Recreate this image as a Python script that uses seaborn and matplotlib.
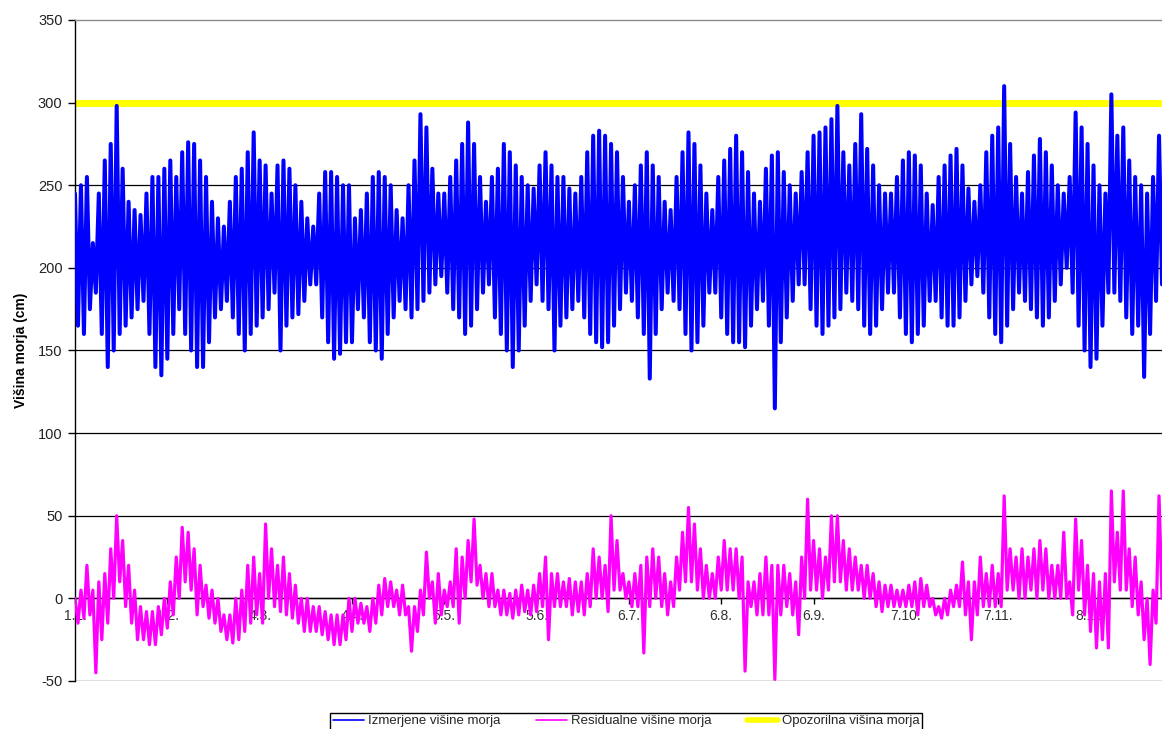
import matplotlib
matplotlib.use("Agg")
import matplotlib.pyplot as plt
import seaborn as sns
import pandas as pd
from matplotlib.lines import Line2D

# ---- data (one sample every 2 days) ----
days = list(range(0, 365, 2))

blue_high = [245, 250, 255, 215, 245, 265, 275, 298, 260, 240,
             235, 232, 245, 255, 255, 260, 265, 255, 270, 276,
             275, 265, 255, 240, 230, 225, 240, 255, 260, 270,
             282, 265, 262, 245, 262, 265, 260, 250, 240, 230,
             225, 245, 258, 258, 255, 250, 250, 230, 235, 245,
             255, 258, 255, 250, 235, 230, 250, 265, 293, 285,
             260, 245, 245, 255, 265, 275, 288, 275, 255, 240,
             255, 260, 275, 270, 262, 255, 250, 248, 262, 270,
             262, 255, 255, 248, 245, 255, 270, 280, 283, 280,
             275, 270, 255, 240, 250, 262, 270, 262, 255, 240,
             235, 255, 270, 282, 275, 262, 245, 235, 255, 265,
             272, 280, 270, 258, 245, 240, 260, 268, 270, 258,
             250, 245, 258, 270, 280, 282, 285, 290, 298, 270,
             262, 275, 293, 272, 262, 250, 245, 245, 255, 265,
             270, 268, 262, 245, 238, 255, 262, 268, 272, 262,
             248, 240, 250, 270, 280, 285, 310, 275, 255, 245,
             258, 268, 278, 270, 262, 250, 245, 255, 294, 285,
             275, 262, 250, 245, 305, 280, 285, 265, 255, 250,
             245, 255, 280]

blue_low = [165, 160, 175, 185, 160, 140, 150, 160, 165, 170,
            175, 180, 160, 140, 135, 145, 160, 175, 160, 150,
            140, 140, 155, 170, 175, 180, 170, 160, 150, 160,
            165, 170, 175, 185, 150, 165, 170, 172, 180, 190,
            190, 170, 155, 145, 148, 155, 155, 175, 170, 155,
            150, 145, 160, 170, 180, 175, 170, 175, 180, 185,
            190, 195, 185, 175, 170, 160, 165, 175, 185, 190,
            170, 160, 150, 140, 150, 165, 180, 190, 180, 175,
            150, 165, 170, 175, 180, 170, 160, 155, 152, 155,
            165, 175, 185, 180, 170, 160, 133, 160, 175, 185,
            180, 175, 160, 150, 155, 165, 185, 185, 170, 160,
            155, 155, 152, 165, 175, 180, 165, 115, 155, 170,
            180, 190, 190, 175, 165, 160, 165, 170, 175, 185,
            180, 175, 165, 160, 165, 175, 185, 185, 170, 160,
            155, 160, 165, 180, 180, 170, 165, 165, 170, 180,
            190, 195, 185, 170, 160, 155, 165, 175, 185, 180,
            175, 170, 165, 170, 180, 190, 200, 185, 165, 150,
            140, 145, 165, 185, 185, 180, 170, 160, 165, 134,
            160, 180, 190]

res_high = [0, 5, 20, 5, 10, 15, 30, 50, 35, 20,
            5, -5, -8, -8, -5, 0, 10, 25, 43, 40,
            30, 20, 8, 5, 0, -10, -10, 0, 5, 20,
            25, 15, 45, 30, 20, 25, 15, 8, 0, 0,
            -5, -5, -8, -10, -10, -10, 0, 0, -3, -5,
            0, 8, 12, 10, 5, 8, -5, -5, 5, 28,
            10, 15, 5, 10, 30, 25, 35, 48, 20, 15,
            15, 5, 5, 3, 5, 8, 5, 8, 15, 25,
            15, 15, 10, 12, 10, 10, 15, 30, 25, 20,
            50, 35, 15, 10, 15, 20, 25, 30, 25, 15,
            10, 25, 40, 55, 45, 30, 20, 15, 25, 35,
            30, 30, 25, 10, 10, 15, 25, 20, 20, 20,
            15, 10, 25, 60, 35, 30, 25, 50, 50, 35,
            30, 25, 20, 20, 15, 10, 8, 8, 5, 5,
            8, 10, 12, 8, 0, -5, 0, 5, 8, 22,
            10, 10, 25, 15, 20, 15, 62, 30, 25, 30,
            25, 30, 35, 30, 20, 20, 40, 10, 48, 35,
            20, 15, 10, 15, 65, 40, 65, 30, 25, 10,
            0, 5, 62]

res_low = [-15, -12, -10, -45, -25, -15, 0, 10, -5, -15,
           -25, -25, -28, -28, -22, -18, -10, 0, 10, 5,
           -10, -5, -12, -15, -20, -25, -27, -25, -20, -15,
           -10, -15, 0, -5, -8, -10, -12, -15, -20, -20,
           -20, -22, -25, -28, -28, -25, -20, -15, -15, -20,
           -15, -10, -5, -5, -10, -10, -32, -20, -10, 0,
           -15, -10, -5, -5, -15, 0, 10, 8, 0, -5,
           -5, -10, -10, -12, -10, -8, -10, -8, -5, -25,
           -5, -5, -5, -10, -8, -10, -5, 0, 0, -8,
           5, 5, 0, -5, -5, -33, -5, 0, -5, -10,
           -5, 5, 10, 10, 5, 0, 0, 0, 5, 5,
           5, 0, -44, -5, -10, -10, -10, -49, -10, -5,
           -10, -22, 0, 5, 5, 0, 5, 10, 10, 5,
           5, 5, 0, 0, -5, -8, -5, -5, -5, -5,
           -5, -10, -5, -5, -10, -12, -10, -5, -5, -10,
           -25, -10, -5, -5, -5, -5, 5, 5, 0, 0,
           5, 0, 5, 0, 0, 0, 0, -10, 5, -10,
           -20, -30, -25, -30, 10, 5, 5, -5, -10, -25,
           -40, -15, 0]

warning_level = [300, 300]
warning_days = [0, 365]

tick_days = [0, 31, 62, 93, 124, 155, 186, 217, 248, 279, 310, 341]
tick_labels = ["1.1.", "1.2.", "4.3.", "4.4.", "5.5.", "5.6.", "6.7.",
               "6.8.", "6.9.", "7.10.", "7.11.", "8.12."]

series_names = ["Izmerjene višine morja", "Residualne višine morja",
                "Opozorilna višina morja"]


def zigzag(high, low):
    xs, ys = [], []
    for d, h, l in zip(days, high, low):
        xs += [d, d + 1]
        ys += [h, l]
    return pd.DataFrame({"day": xs, "value": ys})


blue_df = zigzag(blue_high, blue_low)
res_df = zigzag(res_high, res_low)
warn_df = pd.DataFrame({"day": warning_days, "value": warning_level})

sns.set_theme(style="white")
plt.rcParams["font.family"] = ["Liberation Sans", "DejaVu Sans"]
plt.rcParams["axes.unicode_minus"] = False

W, H = 1162, 729
fig = plt.figure(figsize=(W / 100, H / 100), dpi=100)
ax = fig.add_axes([75 / W, 1 - 681 / H, (1162 - 75) / W, (681 - 20) / H])

BLUE = "#0000ff"
MAG = "#ff00ff"
YEL = "#ffff00"

sns.lineplot(data=warn_df, x="day", y="value", color=YEL, lw=5,
             ax=ax, estimator=None, sort=False, zorder=2)
sns.lineplot(data=blue_df, x="day", y="value", color=BLUE, lw=2.9,
             ax=ax, estimator=None, sort=False, zorder=3)
sns.lineplot(data=res_df, x="day", y="value", color=MAG, lw=2.3,
             ax=ax, estimator=None, sort=False, zorder=3)

ax.set_xlim(0, 365)
ax.set_ylim(-50, 350)
ax.set_yticks(range(-50, 351, 50))
ax.set_xticks(tick_days)
ax.set_xticklabels(tick_labels)

ax.set_axisbelow(True)
ax.yaxis.grid(True, color="black", lw=0.9)
ax.xaxis.grid(False)
ax.yaxis.get_gridlines()[-1].set_visible(False)

ax.spines["right"].set_visible(False)
ax.spines["top"].set_color("#8c8c8c")
ax.spines["top"].set_linewidth(1.0)
ax.spines["left"].set_color("black")
ax.spines["left"].set_linewidth(1.0)
ax.spines["bottom"].set_position(("data", 0))
ax.spines["bottom"].set_color("black")
ax.spines["bottom"].set_linewidth(1.0)

ax.tick_params(axis="y", direction="out", length=5, width=1, color="black",
               labelsize=10.5, labelcolor="#222222", left=True, pad=4)
ax.tick_params(axis="x", direction="out", length=4, width=1, color="black",
               labelsize=10, labelcolor="#333333", bottom=True, pad=4)

ax.set_xlabel("")
ax.set_ylabel("Višina morja (cm)", fontsize=10, fontweight="bold",
              color="black", labelpad=7)

handles = [Line2D([], [], color=BLUE, lw=1.2),
           Line2D([], [], color=MAG, lw=1.2),
           Line2D([], [], color=YEL, lw=4)]
leg = fig.legend(handles, series_names, loc="upper center",
                 bbox_to_anchor=(626 / W, 1 - 706 / H), ncol=3,
                 frameon=True, fancybox=False, edgecolor="black",
                 fontsize=9.5, handlelength=2.4, handletextpad=0.25,
                 columnspacing=2.7, borderpad=0.2, framealpha=1)
leg.get_frame().set_linewidth(1.0)

fig.savefig("out.png", dpi=100)
